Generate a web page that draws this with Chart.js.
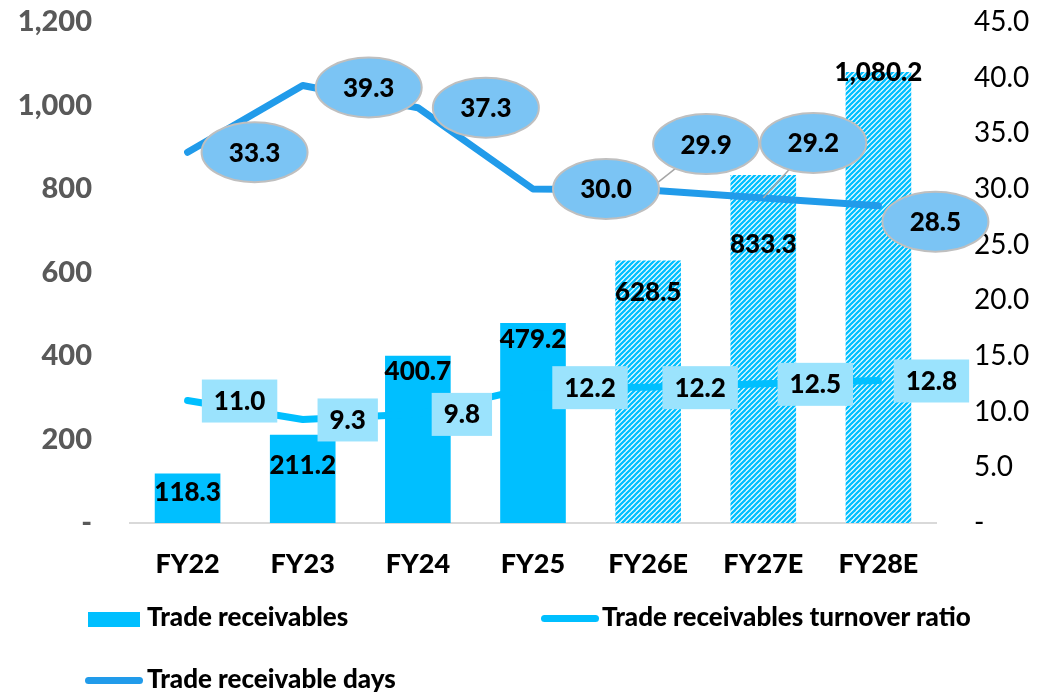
<!DOCTYPE html>
<html>
<head>
<meta charset="utf-8">
<script src="https://cdn.jsdelivr.net/npm/chart.js@4.4.0/dist/chart.umd.min.js"></script>
<style>
  body { margin: 0; background: #fff; }
  #wrap { position: relative; width: 1049px; height: 693px; font-family: Lato, sans-serif; }
  #myChart { position: absolute; left: 0; top: 0; }
  .sw { position: absolute; }
  .lg { position: absolute; font: 900 26px Lato, sans-serif; line-height: 31.2px; color: #000; white-space: nowrap; }
</style>
</head>
<body>
<div id="wrap">
  <canvas id="myChart" width="1049" height="693"></canvas>
  <div class="sw" style="left:88px;top:612px;width:52px;height:15px;background:#00bfff"></div>
  <div class="lg" style="left:147px;top:601px">Trade receivables</div>
  <div class="sw" style="left:541px;top:615px;width:58px;height:7px;border-radius:4px;background:#00bfff"></div>
  <div class="lg" style="left:602px;top:601px">Trade receivables turnover ratio</div>
  <div class="sw" style="left:85px;top:677px;width:58px;height:7px;border-radius:4px;background:#219bea"></div>
  <div class="lg" style="left:147px;top:663px">Trade receivable days</div>
</div>
<script>
const years = ['FY22', 'FY23', 'FY24', 'FY25', 'FY26E', 'FY27E', 'FY28E']
const receivables = [118.3, 211.2, 400.7, 479.2, 628.5, 833.3, 1080.2]
const turnover = [11.0, 9.3, 9.8, 12.2, 12.2, 12.5, 12.8]
const days = [33.3, 39.3, 37.3, 30.0, 29.9, 29.2, 28.5]
const estimated = [false, false, false, false, true, true, true]

// label placement in pixels
const barLabelDy = [19, 31, 16, 17, 32, 70, 1]
const ratioLabelDx = [52, 45, 44, 57, 52, 52, 53]
const daysLabelOff = [[67, 0], [66, 2], [68, 0], [73, 0], [58, -46], [50, -55], [57, 16]]

const barBlue = '#00bfff'
const daysBlue = '#219bea'

// diagonal stripes for the estimate years
function hatch(color) {
  const c = document.createElement('canvas')
  c.width = c.height = 5
  const g = c.getContext('2d')
  g.fillStyle = '#fff'
  g.fillRect(0, 0, 5, 5)
  g.strokeStyle = color
  g.lineWidth = 2.3
  for (const k of [-5, 0, 5]) {
    g.beginPath()
    g.moveTo(k - 1, 6)
    g.lineTo(k + 6, -1)
    g.stroke()
  }
  return g.createPattern(c, 'repeat')
}

const valueLabels = {
  id: 'valueLabels',
  afterDatasetsDraw(chart) {
    const ctx = chart.ctx
    const bars = chart.getDatasetMeta(0).data
    const ratioPts = chart.getDatasetMeta(1).data
    const dayPts = chart.getDatasetMeta(2).data
    ctx.save()
    ctx.font = '900 26px Lato'
    ctx.textAlign = 'center'
    ctx.textBaseline = 'middle'
    ctx.fillStyle = '#000'

    // bar values
    bars.forEach((b, i) => {
      ctx.fillText(receivables[i].toLocaleString('en-US', { minimumFractionDigits: 1 }), b.x, b.y + barLabelDy[i])
    })

    // turnover ratio boxes
    ratioPts.forEach((p, i) => {
      const txt = turnover[i].toFixed(1)
      const w = ctx.measureText(txt).width + 24
      const cx = p.x + ratioLabelDx[i]
      ctx.fillStyle = '#9be3fd'
      ctx.fillRect(cx - w / 2, p.y - 21, w, 43)
      ctx.fillStyle = '#000'
      ctx.fillText(txt, cx, p.y + 1)
    })

    // leader lines for the moved day labels
    ctx.strokeStyle = '#a6a6a6'
    ctx.lineWidth = 1.5
    dayPts.forEach((p, i) => {
      const [dx, dy] = daysLabelOff[i]
      if (Math.abs(dy) > 30) {
        ctx.beginPath()
        ctx.moveTo(p.x, p.y)
        ctx.lineTo(p.x + dx, p.y + dy)
        ctx.stroke()
      }
    })

    // day ellipses
    dayPts.forEach((p, i) => {
      const [dx, dy] = daysLabelOff[i]
      ctx.beginPath()
      ctx.ellipse(p.x + dx, p.y + dy, 53, 30, 0, 0, Math.PI * 2)
      ctx.fillStyle = '#7bc4f4'
      ctx.fill()
      ctx.strokeStyle = '#bfbfbf'
      ctx.lineWidth = 2
      ctx.stroke()
      ctx.fillStyle = '#000'
      ctx.fillText(days[i].toFixed(1), p.x + dx, p.y + dy + 1)
    })
    ctx.restore()
  }
}

// keep the vertical axes from adding their own label overhang
function fixWidth(w) {
  return s => {
    s.width = w
    s.paddingTop = 0
    s.paddingBottom = 0
  }
}

Chart.defaults.font.family = 'Lato'

new Chart(document.getElementById('myChart'), {
  type: 'bar',
  data: {
    labels: years,
    datasets: [{
      label: 'Trade receivables',
      data: receivables,
      backgroundColor: estimated.map(e => e ? hatch(barBlue) : barBlue),
      yAxisID: 'y',
      barPercentage: 0.57,
      categoryPercentage: 1,
      order: 3
    }, {
      type: 'line',
      label: 'Trade receivables turnover ratio',
      data: turnover,
      borderColor: barBlue,
      borderWidth: 7,
      borderCapStyle: 'round',
      borderJoinStyle: 'round',
      pointRadius: 0,
      tension: 0,
      yAxisID: 'y1',
      order: 2
    }, {
      type: 'line',
      label: 'Trade receivable days',
      data: days,
      borderColor: daysBlue,
      borderWidth: 7,
      borderCapStyle: 'round',
      borderJoinStyle: 'round',
      pointRadius: 0,
      tension: 0,
      yAxisID: 'y1',
      order: 1
    }]
  },
  options: {
    responsive: false,
    animation: false,
    devicePixelRatio: 1,
    layout: { padding: { top: 22, bottom: 110, left: 0, right: 0 } },
    plugins: { legend: { display: false }, tooltip: { enabled: false } },
    scales: {
      x: {
        grid: { display: false, drawTicks: false },
        border: { color: '#d9d9d9', width: 2 },
        ticks: { color: '#000', font: { size: 27, weight: '900' }, padding: 25 },
        afterFit: s => { s.height = 60 }
      },
      y: {
        position: 'left',
        min: 0,
        max: 1200,
        grid: { display: false, drawTicks: false },
        border: { display: false },
        ticks: {
          stepSize: 200,
          color: '#595959',
          font: { size: 29, weight: '900' },
          padding: 38,
          callback: v => v === 0 ? '-' : v.toLocaleString('en-US')
        },
        afterFit: fixWidth(130)
      },
      y1: {
        position: 'right',
        min: 0,
        max: 45,
        grid: { display: false, drawTicks: false },
        border: { display: false },
        ticks: {
          stepSize: 5,
          color: '#000',
          font: { size: 28 },
          padding: 38,
          callback: v => v === 0 ? '-' : v.toFixed(1)
        },
        afterFit: fixWidth(113)
      }
    }
  },
  plugins: [valueLabels]
})
</script>
</body>
</html>
